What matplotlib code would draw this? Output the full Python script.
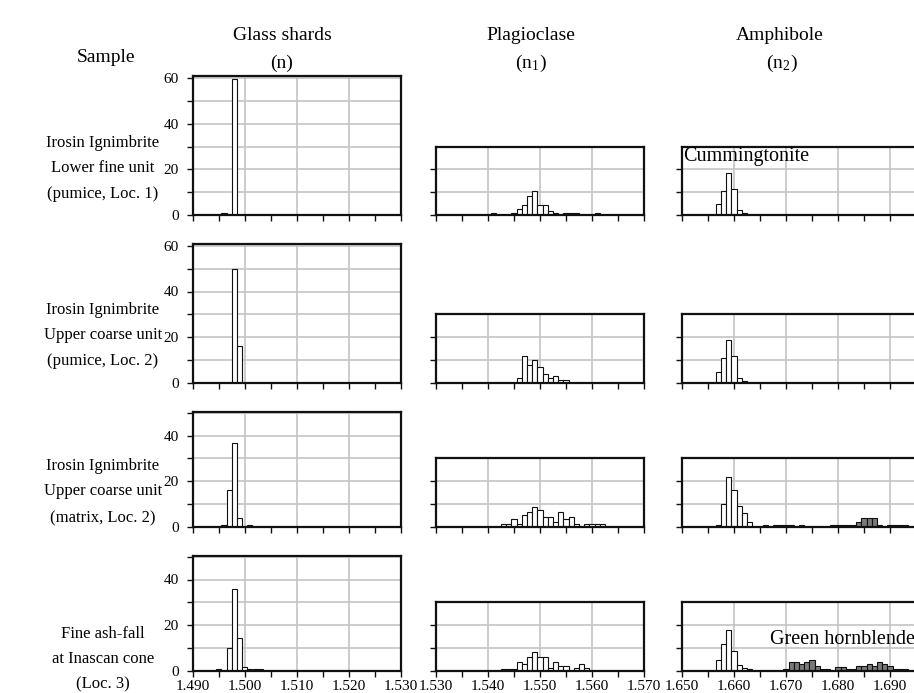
import numpy as np
import matplotlib
matplotlib.use('Agg')
import matplotlib.pyplot as plt

plt.rcParams['font.family'] = ['Liberation Serif', 'DejaVu Serif']
plt.rcParams['mathtext.fontset'] = 'stix'
plt.rcParams['xtick.labelsize'] = 11
plt.rcParams['ytick.labelsize'] = 11

# bin centres (refractive index) and frequencies
glass1_n = [1.496, 1.498]
glass1_f = [0.9, 59.7]
glass2_n = [1.498, 1.499]
glass2_f = [50, 16]
glass3_n = [1.496, 1.497, 1.498, 1.499, 1.501]
glass3_f = [0.8, 16, 36.5, 3.7, 0.8]
glass4_n = [1.495, 1.497, 1.498, 1.499, 1.500, 1.501, 1.502, 1.503]
glass4_f = [0.8, 10, 36, 14.3, 1.8, 0.8, 0.8, 0.8]

plag1_n = [1.541, 1.545, 1.546, 1.547, 1.548, 1.549, 1.550, 1.551, 1.552,
           1.553, 1.555, 1.556, 1.557, 1.561]
plag1_f = [0.9, 0.9, 2.5, 4.2, 8.3, 10.7, 4.2, 4.2, 1.7, 0.9, 0.9, 0.9, 0.9, 0.9]
plag2_n = [1.546, 1.547, 1.548, 1.549, 1.550, 1.551, 1.552, 1.553, 1.554, 1.555]
plag2_f = [2.2, 11.5, 7.9, 10.1, 6.7, 3.9, 2.0, 2.9, 1.0, 1.0]
plag3_n = [1.543, 1.544, 1.545, 1.546, 1.547, 1.548, 1.549, 1.550, 1.551, 1.552,
           1.553, 1.554, 1.555, 1.556, 1.557, 1.559, 1.560, 1.561, 1.562]
plag3_f = [1.2, 1.2, 3.2, 1.2, 5.3, 6.4, 8.6, 7.4, 4.2, 4.2,
           2.2, 6.4, 3.2, 4.2, 1.2, 1.2, 1.2, 1.2, 1.2]
plag4_n = [1.543, 1.544, 1.545, 1.546, 1.547, 1.548, 1.549, 1.550, 1.551, 1.552,
           1.553, 1.554, 1.555, 1.557, 1.558, 1.559]
plag4_f = [0.9, 0.9, 0.9, 4.0, 2.8, 5.9, 8.1, 6.1, 6.1, 1.0,
           4.0, 1.9, 1.9, 1.0, 3.0, 1.0]

cumm1_n = [1.657, 1.658, 1.659, 1.660, 1.661, 1.662]
cumm1_f = [4.8, 10.7, 18.6, 11.6, 2.0, 1.0]
cumm2_n = [1.657, 1.658, 1.659, 1.660, 1.661, 1.662]
cumm2_f = [4.8, 10.9, 18.8, 11.8, 2.0, 0.9]
cumm3_n = [1.657, 1.658, 1.659, 1.660, 1.661, 1.662, 1.663]
cumm3_f = [0.9, 10.1, 21.9, 16.1, 9.1, 6.0, 2.0]
cumm4_n = [1.657, 1.658, 1.659, 1.660, 1.661, 1.662, 1.663]
cumm4_f = [4.7, 11.7, 17.8, 8.7, 2.7, 1.3, 0.9]

hbl3_n = [1.666, 1.668, 1.669, 1.670, 1.671, 1.673, 1.679, 1.680, 1.681, 1.682,
          1.683, 1.684, 1.685, 1.686, 1.687, 1.688, 1.690, 1.691, 1.692, 1.693]
hbl3_f = [0.9, 0.9, 0.9, 0.9, 0.9, 0.9, 0.9, 0.9, 0.9, 0.9,
          0.9, 2.0, 4.0, 4.0, 4.0, 0.9, 0.9, 0.9, 0.9, 0.9]
hbl4_n = [1.670, 1.671, 1.672, 1.673, 1.674, 1.675, 1.676, 1.677, 1.678,
          1.680, 1.681, 1.682, 1.683, 1.684, 1.685, 1.686, 1.687, 1.688, 1.689,
          1.690, 1.691, 1.692, 1.693]
hbl4_f = [0.9, 3.7, 3.7, 2.8, 3.7, 4.9, 1.9, 0.9, 0.9,
          1.8, 1.8, 0.9, 0.9, 1.9, 1.9, 2.8, 1.9, 3.7, 2.8,
          1.9, 0.9, 0.9, 0.9]

sample_labels = [
    ["Irosin Ignimbrite", "Lower fine unit", "(pumice, Loc. 1)"],
    ["Irosin Ignimbrite", "Upper coarse unit", "(pumice, Loc. 2)"],
    ["Irosin Ignimbrite", "Upper coarse unit", "(matrix, Loc. 2)"],
    ["Fine ash-fall", "at Inascan cone", "(Loc. 3)"],
]

W, H = 914, 693
fig = plt.figure(figsize=(W / 100, H / 100), dpi=100)

px_per_unit = 2.28
baselines = [215, 382.7, 526.7, 670.7]
glass_top = [61, 61, 50.5, 50.5]
col_left = [192.7, 436, 682]
col_width = [208, 208, 260]
col_xlim = [(1.490, 1.530), (1.530, 1.570), (1.650, 1.700)]

glass = [(glass1_n, glass1_f), (glass2_n, glass2_f), (glass3_n, glass3_f), (glass4_n, glass4_f)]
plag = [(plag1_n, plag1_f), (plag2_n, plag2_f), (plag3_n, plag3_f), (plag4_n, plag4_f)]
cumm = [(cumm1_n, cumm1_f), (cumm2_n, cumm2_f), (cumm3_n, cumm3_f), (cumm4_n, cumm4_f)]
hbl = [None, None, (hbl3_n, hbl3_f), (hbl4_n, hbl4_f)]


def make_ax(col, row, ytop):
    h = ytop * px_per_unit
    ax = fig.add_axes([col_left[col] / W, (H - baselines[row]) / H,
                       col_width[col] / W, h / H])
    x0, x1 = col_xlim[col]
    ax.set_xlim(x0, x1)
    ax.set_ylim(0, ytop)
    ax.set_axisbelow(True)
    ax.set_xticks(np.arange(x0, x1 + 1e-9, 0.010))
    ax.set_xticks(np.arange(x0 + 0.005, x1, 0.010), minor=True)
    ax.set_yticks(np.arange(0, ytop, 10))
    ax.grid(True, which='major', color='#c4c4c4', lw=1.2)
    for s in ax.spines.values():
        s.set_linewidth(1.6)
        s.set_color('#111111')
    ax.tick_params(which='both', direction='out', length=4, width=1, color='#111111', pad=3)
    if row == 3:
        ax.set_xticklabels([f"{v:.3f}" for v in ax.get_xticks()])
    else:
        ax.set_xticklabels([])
    if col == 0:
        ax.set_yticklabels([str(int(v)) if int(v) % 20 == 0 else '' for v in ax.get_yticks()])
        ax.tick_params(axis='y', pad=6)
    else:
        ax.set_yticklabels([])
    return ax


for r in range(4):
    ax = make_ax(0, r, glass_top[r])
    ax.bar(glass[r][0], glass[r][1], width=0.001, color='white', edgecolor='#111111', lw=0.8)

    ax = make_ax(1, r, 30)
    ax.bar(plag[r][0], plag[r][1], width=0.001, color='white', edgecolor='#111111', lw=0.8)

    ax = make_ax(2, r, 30)
    ax.bar(cumm[r][0], cumm[r][1], width=0.001, color='white', edgecolor='#111111', lw=0.8)
    if hbl[r] is not None:
        ax.bar(hbl[r][0], hbl[r][1], width=0.001, color='#7a7a7a', edgecolor='#111111', lw=0.8)
    if r == 0:
        ax.text(683, H - 157, "Cummingtonite", transform=None, fontsize=14.5,
                va='center', ha='left')
    if r == 3:
        ax.text(770, H - 639, "Green hornblende", transform=None, fontsize=14.5,
                va='center', ha='left')


def ftext(x, y, s, **kw):
    fig.text(x / W, 1 - y / H, s, ha='center', va='center', **kw)


ftext(106, 58, "Sample", fontsize=14)
ftext(282, 36, "Glass shards", fontsize=14)
ftext(282, 63, "(n)", fontsize=14)
ftext(531, 36, "Plagioclase", fontsize=14)
ftext(531, 63, r"(n$_{\mathregular{1}}$)", fontsize=14)
ftext(780, 36, "Amphibole", fontsize=14)
ftext(782, 63, r"(n$_{\mathregular{2}}$)", fontsize=14)

row_text_y = [(143, 168, 194), (310, 335, 361), (466, 491, 518), (634, 659, 684)]
for r in range(4):
    for line, y in zip(sample_labels[r], row_text_y[r]):
        ftext(103, y, line, fontsize=12)

fig.savefig('out.png', dpi=100)
